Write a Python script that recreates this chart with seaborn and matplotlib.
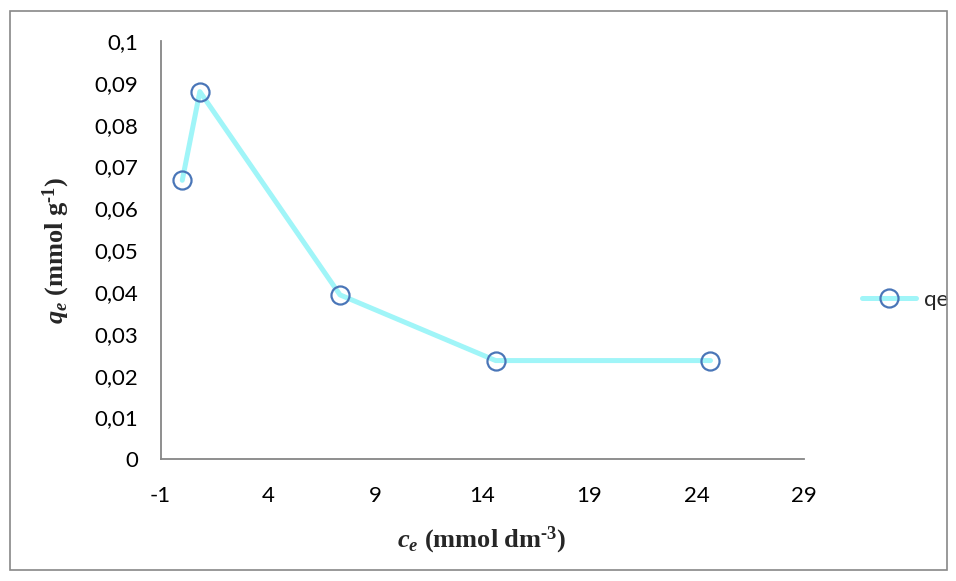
import pandas as pd
import matplotlib
matplotlib.use('Agg')
import matplotlib.pyplot as plt
import seaborn as sns
from matplotlib.patches import Rectangle
from matplotlib.ticker import FuncFormatter

# data
ce = [0.01, 0.83, 7.37, 14.63, 24.65]
qe = [0.0667, 0.0879, 0.0393, 0.0236, 0.0236]
x_ticks = [-1, 4, 9, 14, 19, 24, 29]
y_ticks = [0, 0.01, 0.02, 0.03, 0.04, 0.05, 0.06, 0.07, 0.08, 0.09, 0.1]

df = pd.DataFrame({'ce': ce, 'qe': qe})

sns.set_style('white')
plt.rcParams['font.family'] = ['Lato', 'DejaVu Sans']
plt.rcParams['axes.unicode_minus'] = False
plt.rcParams['mathtext.fontset'] = 'custom'
plt.rcParams['mathtext.rm'] = 'Liberation Serif:bold'
plt.rcParams['mathtext.it'] = 'Liberation Serif:bold:italic'

fig = plt.figure(figsize=(9.56, 5.81), dpi=100)
ax = fig.add_axes([0.168, 0.2095, 0.8407 - 0.168, 0.9294 - 0.2095])

sns.lineplot(data=df, x='ce', y='qe', ax=ax, sort=False, color='#A0F5F8',
             linewidth=3.6, marker='o', markersize=13, markerfacecolor='none',
             markeredgecolor='#4A76B8', markeredgewidth=1.6, label='qe')

ax.set_xlim(-1, 29)
ax.set_ylim(0, 0.1)
ax.set_xticks(x_ticks)
ax.set_yticks(y_ticks)
ax.yaxis.set_major_formatter(FuncFormatter(lambda v, p: ('%g' % round(v, 2)).replace('.', ',')))

for side in ['top', 'right']:
    ax.spines[side].set_visible(False)
for side in ['left', 'bottom']:
    ax.spines[side].set_color('#868686')
    ax.spines[side].set_linewidth(1.3)
ax.tick_params(axis='both', which='major', direction='out', length=6, width=1.3,
               color='#868686', labelsize=16, labelcolor='black', pad=10)
ax.tick_params(axis='x', pad=13)

ax.set_xlabel(r'$c_e$ (mmol dm$^{\text{-3}}$)', family='Liberation Serif',
              weight='bold', fontsize=19, labelpad=14)
ax.set_ylabel(r'$q_e$ (mmol g$^{\text{-1}}$)', family='Liberation Serif',
              weight='bold', fontsize=19, labelpad=16)

ax.legend(loc='center left', bbox_to_anchor=(0.881, 0.484), bbox_transform=fig.transFigure,
          frameon=False, fontsize=16, handlelength=2.4, handletextpad=0.4)

fig.add_artist(Rectangle((10 / 956, 11 / 581), 937 / 956, 559 / 581, transform=fig.transFigure,
                         fill=False, edgecolor='#888888', linewidth=1.2))

fig.savefig('out.png', dpi=100)
